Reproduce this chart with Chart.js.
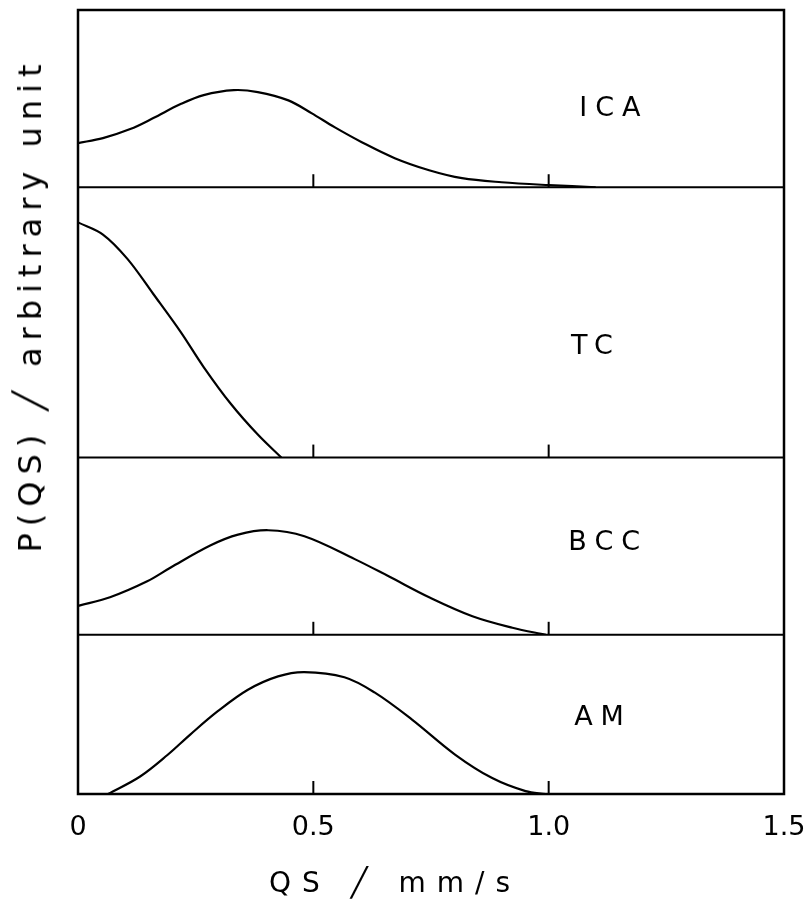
<!DOCTYPE html>
<html>
<head>
<meta charset="utf-8">
<script src="https://cdn.jsdelivr.net/npm/chart.js@4/dist/chart.umd.min.js"></script>
<style>
  html, body { margin: 0; padding: 0; background: #fff; }
  #wrap { position: relative; width: 805px; height: 906px; }
  #yTitle {
    position: absolute; left: 30px; top: 305px;
    transform: translate(-50%, -50%) rotate(-90deg);
    white-space: nowrap; font: 32px "DejaVu Sans", sans-serif; letter-spacing: 7px; color: #000;
  }
  #xTitle {
    position: absolute; left: 395px; top: 882px;
    transform: translate(-50%, -50%);
    white-space: nowrap; font: 28px "DejaVu Sans", sans-serif; letter-spacing: 11px; color: #000;
  }
</style>
</head>
<body>
<div id="wrap">
  <canvas id="graph" width="805" height="906"></canvas>
  <div id="yTitle">P(QS) ╱ arbitrary unit</div>
  <div id="xTitle">QS ╱ mm/s</div>
</div>
<script>
// Datos (QS en mm/s, P en unidad arbitraria)
const panelNames = ["ICA", "TC", "BCC", "AM"];

const qsICA = [0, 0.053, 0.111, 0.16, 0.218, 0.267, 0.331, 0.382, 0.447, 0.496, 0.545, 0.603, 0.673, 0.746, 0.816, 0.9, 1.0, 1.1];
const pICA  = [0.249, 0.277, 0.328, 0.39, 0.469, 0.52, 0.548, 0.537, 0.49, 0.418, 0.339, 0.254, 0.164, 0.096, 0.051, 0.028, 0.012, 0];

const qsTC = [0, 0.053, 0.105, 0.16, 0.218, 0.267, 0.325, 0.382, 0.432];
const pTC  = [0.87, 0.825, 0.735, 0.605, 0.465, 0.335, 0.198, 0.085, 0];

const qsBCC = [0, 0.068, 0.147, 0.197, 0.282, 0.34, 0.404, 0.481, 0.588, 0.66, 0.746, 0.838, 0.923, 0.994];
const pBCC  = [0.163, 0.212, 0.302, 0.38, 0.505, 0.565, 0.59, 0.556, 0.427, 0.33, 0.212, 0.105, 0.04, 0];

const qsAM = [0.064, 0.132, 0.19, 0.239, 0.297, 0.361, 0.425, 0.481, 0.566, 0.63, 0.709, 0.801, 0.88, 0.951, 0.994];
const pAM  = [0, 0.11, 0.245, 0.375, 0.52, 0.655, 0.739, 0.766, 0.733, 0.638, 0.469, 0.248, 0.1, 0.018, 0];

const xTicks = [0, 0.5, 1.0, 1.5];
const innerTicks = [0.5, 1.0];

// Alto relativo de cada panel
const panelWeights = [177, 270, 177, 159];
// Posicion de las etiquetas de cada panel (QS, fraccion de altura)
const labelX = [1.13, 1.092, 1.118, 1.107];
const labelY = [0.44, 0.41, 0.52, 0.48];

const series = [[qsICA, pICA], [qsTC, pTC], [qsBCC, pBCC], [qsAM, pAM]];

// Construir ejes y apilados (el primero definido queda abajo, por eso se invierte)
const yScales = {};
panelNames.slice().reverse().forEach(name => {
    const i = panelNames.indexOf(name);
    yScales["y" + name] = {
        type: "linear",
        position: "left",
        stack: "panels",
        stackWeight: panelWeights[i],
        min: 0,
        max: 1,
        ticks: { display: false },
        grid: { display: false },
        border: { display: false },
        afterFit: s => { s.width = 78; }
    };
});

// Plugin para el marco, separadores, marcas internas y etiquetas
const framePlugin = {
    id: "frame",
    afterDraw(chart) {
        const ctx = chart.ctx;
        const area = chart.chartArea;
        const x = chart.scales.x;
        ctx.save();
        ctx.strokeStyle = "#000";
        ctx.lineWidth = 2.5;
        ctx.strokeRect(area.left, area.top, area.right - area.left, area.bottom - area.top);

        ctx.lineWidth = 2;
        panelNames.forEach((name, i) => {
            const ys = chart.scales["y" + name];
            const yb = ys.getPixelForValue(0);
            ctx.beginPath();
            ctx.moveTo(area.left, yb);
            ctx.lineTo(area.right, yb);
            ctx.stroke();
            innerTicks.forEach(t => {
                const xp = x.getPixelForValue(t);
                ctx.beginPath();
                ctx.moveTo(xp, yb);
                ctx.lineTo(xp, yb - 13);
                ctx.stroke();
            });

            ctx.fillStyle = "#000";
            ctx.font = '27px "DejaVu Sans", sans-serif';
            ctx.letterSpacing = "8px";
            ctx.textAlign = "center";
            ctx.textBaseline = "middle";
            ctx.fillText(name, x.getPixelForValue(labelX[i]) + 4, ys.getPixelForValue(labelY[i]));
        });
        ctx.restore();
    }
};

const ctxGraph = document.getElementById("graph").getContext("2d");
new Chart(ctxGraph, {
    type: "line",
    data: {
        datasets: panelNames.map((name, i) => ({
            label: name,
            data: series[i][0].map((q, k) => ({ x: q, y: series[i][1][k] })),
            yAxisID: "y" + name,
            borderColor: "#000",
            borderWidth: 2.2,
            pointRadius: 0,
            fill: false,
            tension: 0.35
        }))
    },
    options: {
        responsive: false,
        animation: false,
        layout: { padding: { top: 10, right: 21, left: 0, bottom: 0 } },
        plugins: {
            legend: { display: false },
            tooltip: { enabled: false },
            title: { display: false }
        },
        scales: Object.assign({
            x: {
                type: "linear",
                min: 0,
                max: 1.5,
                afterBuildTicks: s => { s.ticks = xTicks.map(v => ({ value: v })); },
                ticks: {
                    color: "#000",
                    font: { family: "DejaVu Sans", size: 27 },
                    padding: 10,
                    maxRotation: 0,
                    callback: v => v === 0 ? "0" : v.toFixed(1)
                },
                grid: { display: false },
                border: { display: false },
                afterFit: s => { s.height = 112; s.paddingLeft = 0; s.paddingRight = 0; }
            }
        }, yScales)
    },
    plugins: [framePlugin]
});
</script>
</body>
</html>
